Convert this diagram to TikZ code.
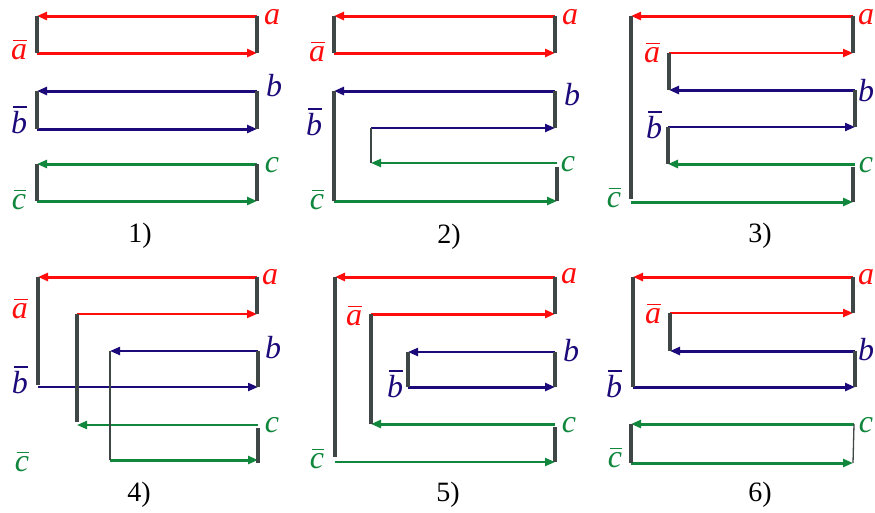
\documentclass[tikz,border=0pt]{standalone}
\usepackage{fontspec}
\setmainfont{Liberation Serif}
\usetikzlibrary{arrows.meta}
\definecolor{cred}{RGB}{255,12,12}
\definecolor{cblue}{RGB}{28,10,122}
\definecolor{cgreen}{RGB}{16,135,60}
\definecolor{cgray}{RGB}{62,70,70}
\newcommand\olab[1]{\vbox{\offinterlineskip\halign{##\cr\hskip2pt\leaders\hrule height 1.7pt\hfill\cr\noalign{\kern3.5pt}\itshape #1\cr}}}
\begin{document}
\begin{tikzpicture}[x=1pt,y=-1pt,
  wire/.style={line width=3pt,-{Triangle[length=10pt,width=8pt]}},
  wthin/.style={line width=2.1pt,-{Triangle[length=10pt,width=8pt]}},
  post/.style={cgray,line width=3.2pt},
  postthin/.style={cgray,line width=2.2pt},
  posthair/.style={cgray,line width=1.3pt},
  lab/.style={inner sep=0pt,font=\fontsize{32}{33}\selectfont\itshape},
  num/.style={inner sep=0pt,font=\fontsize{28}{29}\selectfont}]
\useasboundingbox (0,0) rectangle (875,512);

% ---------------- panel 1 ----------------
\coordinate (p1aL) at (37,16);  \coordinate (p1aR) at (257,16);
\coordinate (p1AL) at (37,53);  \coordinate (p1AR) at (257,53);
\coordinate (p1bL) at (37,91);  \coordinate (p1bR) at (257,91);
\coordinate (p1BL) at (37,129); \coordinate (p1BR) at (257,129);
\coordinate (p1cL) at (37,164); \coordinate (p1cR) at (257,164);
\coordinate (p1CL) at (37,201); \coordinate (p1CR) at (257,201);
\draw[wire,cred] (p1aR) -- (p1aL);
\draw[wire,cred] (p1AL) -- (p1AR);
\draw[wire,cblue] (p1bR) -- (p1bL);
\draw[wire,cblue] (p1BL) -- (p1BR);
\draw[wire,cgreen] (p1cR) -- (p1cL);
\draw[wire,cgreen] (p1CL) -- (p1CR);
\draw[post] (p1aL) -- (p1AL);
\draw[post] (p1aR) -- (p1AR);
\draw[post] (p1bL) -- (p1BL);
\draw[post] (p1bR) -- (p1BR);
\draw[post] (p1cL) -- (p1CL);
\draw[post] (p1cR) -- (p1CR);
\node[lab,cred] (p1la) at (272,17) {a};
\node[lab,cred] (p1lA) at (19,50) {\olab{a}};
\node[lab,cblue] (p1lb) at (274,86) {b};
\node[lab,cblue] (p1lB) at (19,120) {\olab{b}};
\node[lab,cgreen] (p1lc) at (272,165) {c};
\node[lab,cgreen] (p1lC) at (19,200) {\olab{c}};
\node[num] (n1) at (140,236) {1)};

% ---------------- panel 2 ----------------
\coordinate (p2aL) at (334,16);  \coordinate (p2aR) at (555,16);
\coordinate (p2AL) at (334,53);  \coordinate (p2AR) at (555,53);
\coordinate (p2bL) at (334,91);  \coordinate (p2bR) at (555,91);
\coordinate (p2BL) at (371,128); \coordinate (p2BR) at (555,128);
\coordinate (p2cL) at (371,163); \coordinate (p2cR) at (557,163);
\coordinate (p2CL) at (334,201); \coordinate (p2CR) at (557,201);
\coordinate (p2cP) at (557,167);
\draw[wire,cred] (p2aR) -- (p2aL);
\draw[wire,cred] (p2AL) -- (p2AR);
\draw[wire,cblue] (p2bR) -- (p2bL);
\draw[wthin,cblue] (p2BL) -- (p2BR);
\draw[wthin,cgreen] (p2cR) -- (p2cL);
\draw[wire,cgreen] (p2CL) -- (p2CR);
\draw[post] (p2aL) -- (p2AL);
\draw[post] (p2aR) -- (p2AR);
\draw[post] (p2bL) -- (p2CL);
\draw[post] (p2bR) -- (p2BR);
\draw[postthin] (p2BL) -- (p2cL);
\draw[post] (p2cP) -- (p2CR);
\node[lab,cred] (p2la) at (570,17) {a};
\node[lab,cred] (p2lA) at (317,52) {\olab{a}};
\node[lab,cblue] (p2lb) at (572,95) {b};
\node[lab,cblue] (p2lB) at (314,122) {\olab{b}};
\node[lab,cgreen] (p2lc) at (568,164) {c};
\node[lab,cgreen] (p2lC) at (317,200) {\olab{c}};
\node[num] (n2) at (449,237) {2)};

% ---------------- panel 3 ----------------
\coordinate (p3aL) at (631,16);  \coordinate (p3aR) at (853,16);
\coordinate (p3AL) at (669,53);  \coordinate (p3AR) at (853,53);
\coordinate (p3bL) at (669,90);  \coordinate (p3bR) at (855,90);
\coordinate (p3BL) at (668,127); \coordinate (p3BR) at (855,127);
\coordinate (p3cL) at (668,164); \coordinate (p3cR) at (855,164);
\coordinate (p3CL) at (631,202); \coordinate (p3CR) at (853,202);
\coordinate (p3gE) at (631,199); \coordinate (p3cP) at (853,167);
\draw[wire,cred] (p3aR) -- (p3aL);
\draw[wthin,cred] (p3AL) -- (p3AR);
\draw[wire,cblue] (p3bR) -- (p3bL);
\draw[wthin,cblue] (p3BL) -- (p3BR);
\draw[wire,cgreen] (p3cR) -- (p3cL);
\draw[wire,cgreen] (p3CL) -- (p3CR);
\draw[post] (p3aL) -- (p3gE);
\draw[post] (p3aR) -- (p3AR);
\draw[post] (p3AL) -- (p3bL);
\draw[post] (p3bR) -- (p3BR);
\draw[post] (p3BL) -- (p3cL);
\draw[post] (p3cP) -- (p3CR);
\node[lab,cred] (p3la) at (866,17) {a};
\node[lab,cred] (p3lA) at (652,53) {\olab{a}};
\node[lab,cblue] (p3lb) at (866,91) {b};
\node[lab,cblue] (p3lB) at (654,125) {\olab{b}};
\node[lab,cgreen] (p3lc) at (866,165) {c};
\node[lab,cgreen] (p3lC) at (614,198) {\olab{c}};
\node[num] (n3) at (760,236) {3)};

% ---------------- panel 4 ----------------
\coordinate (p4aL) at (38,277);  \coordinate (p4aR) at (257,277);
\coordinate (p4AL) at (77,314);  \coordinate (p4AR) at (257,314);
\coordinate (p4bL) at (110,351); \coordinate (p4bR) at (258,351);
\coordinate (p4BL) at (38,387);  \coordinate (p4BR) at (258,387);
\coordinate (p4cL) at (77,425);  \coordinate (p4cR) at (258,425);
\coordinate (p4CL) at (110,460); \coordinate (p4CR) at (258,460);
\coordinate (p4gA) at (38,385);  \coordinate (p4gC) at (77,422);
\coordinate (p4cP) at (258,428); \coordinate (p4cQ) at (258,463);
\draw[wire,cred] (p4aR) -- (p4aL);
\draw[wthin,cred] (p4AL) -- (p4AR);
\draw[wthin,cblue] (p4bR) -- (p4bL);
\draw[wthin,cblue] (p4BL) -- (p4BR);
\draw[wthin,cgreen] (p4cR) -- (p4cL);
\draw[wire,cgreen] (p4CL) -- (p4CR);
\draw[post] (p4aL) -- (p4gA);
\draw[post] (p4aR) -- (p4AR);
\draw[post] (p4AL) -- (p4gC);
\draw[postthin] (p4bL) -- (p4CL);
\draw[post] (p4bR) -- (p4BR);
\draw[post] (p4cP) -- (p4cQ);
\node[lab,cred] (p4la) at (270,277) {a};
\node[lab,cred] (p4lA) at (20,309) {\olab{a}};
\node[lab,cblue] (p4lb) at (273,348) {b};
\node[lab,cblue] (p4lB) at (20,380) {\olab{b}};
\node[lab,cgreen] (p4lc) at (272,425) {c};
\node[lab,cgreen] (p4lC) at (22,462) {\olab{c}};
\node[num] (n4) at (139,495) {4)};

% ---------------- panel 5 ----------------
\coordinate (p5aL) at (335,277); \coordinate (p5aR) at (555,277);
\coordinate (p5AL) at (371,314); \coordinate (p5AR) at (555,314);
\coordinate (p5bL) at (408,352); \coordinate (p5bR) at (555,352);
\coordinate (p5BL) at (408,387); \coordinate (p5BR) at (555,387);
\coordinate (p5cL) at (371,424); \coordinate (p5cR) at (555,424);
\coordinate (p5CL) at (335,462); \coordinate (p5CR) at (555,462);
\coordinate (p5gE) at (335,457); \coordinate (p5cP) at (555,427);
\draw[wire,cred] (p5aR) -- (p5aL);
\draw[wire,cred] (p5AL) -- (p5AR);
\draw[wthin,cblue] (p5bR) -- (p5bL);
\draw[wire,cblue] (p5BL) -- (p5BR);
\draw[wire,cgreen] (p5cR) -- (p5cL);
\draw[wthin,cgreen] (p5CL) -- (p5CR);
\draw[post] (p5aL) -- (p5gE);
\draw[post] (p5aR) -- (p5AR);
\draw[post] (p5AL) -- (p5cL);
\draw[post] (p5bL) -- (p5BL);
\draw[post] (p5bR) -- (p5BR);
\draw[post] (p5cP) -- (p5CR);
\node[lab,cred] (p5la) at (569,276) {a};
\node[lab,cred] (p5lA) at (354,316) {\olab{a}};
\node[lab,cblue] (p5lb) at (571,351) {b};
\node[lab,cblue] (p5lB) at (395,384) {\olab{b}};
\node[lab,cgreen] (p5lc) at (569,425) {c};
\node[lab,cgreen] (p5lC) at (317,459) {\olab{c}};
\node[num] (n5) at (448,495) {5)};

% ---------------- panel 6 ----------------
\coordinate (p6aL) at (633,277); \coordinate (p6aR) at (853,277);
\coordinate (p6AL) at (670,313); \coordinate (p6AR) at (853,313);
\coordinate (p6bL) at (670,351); \coordinate (p6bR) at (855,351);
\coordinate (p6BL) at (633,387); \coordinate (p6BR) at (855,387);
\coordinate (p6cL) at (631,424); \coordinate (p6cR) at (854,424);
\coordinate (p6CL) at (631,463); \coordinate (p6CR) at (853,463);
\draw[wire,cred] (p6aR) -- (p6aL);
\draw[wthin,cred] (p6AL) -- (p6AR);
\draw[wire,cblue] (p6bR) -- (p6bL);
\draw[wire,cblue] (p6BL) -- (p6BR);
\draw[wire,cgreen] (p6cR) -- (p6cL);
\draw[wire,cgreen] (p6CL) -- (p6CR);
\draw[post] (p6aL) -- (p6BL);
\draw[post] (p6aR) -- (p6AR);
\draw[post] (p6AL) -- (p6bL);
\draw[post] (p6bR) -- (p6BR);
\draw[post] (p6cL) -- (p6CL);
\draw[posthair] (p6cR) -- (p6CR);
\node[lab,cred] (p6la) at (866,277) {a};
\node[lab,cred] (p6lA) at (653,314) {\olab{a}};
\node[lab,cblue] (p6lb) at (866,350) {b};
\node[lab,cblue] (p6lB) at (614,384) {\olab{b}};
\node[lab,cgreen] (p6lc) at (866,425) {c};
\node[lab,cgreen] (p6lC) at (615,458) {\olab{c}};
\node[num] (n6) at (760,495) {6)};
\end{tikzpicture}
\end{document}
